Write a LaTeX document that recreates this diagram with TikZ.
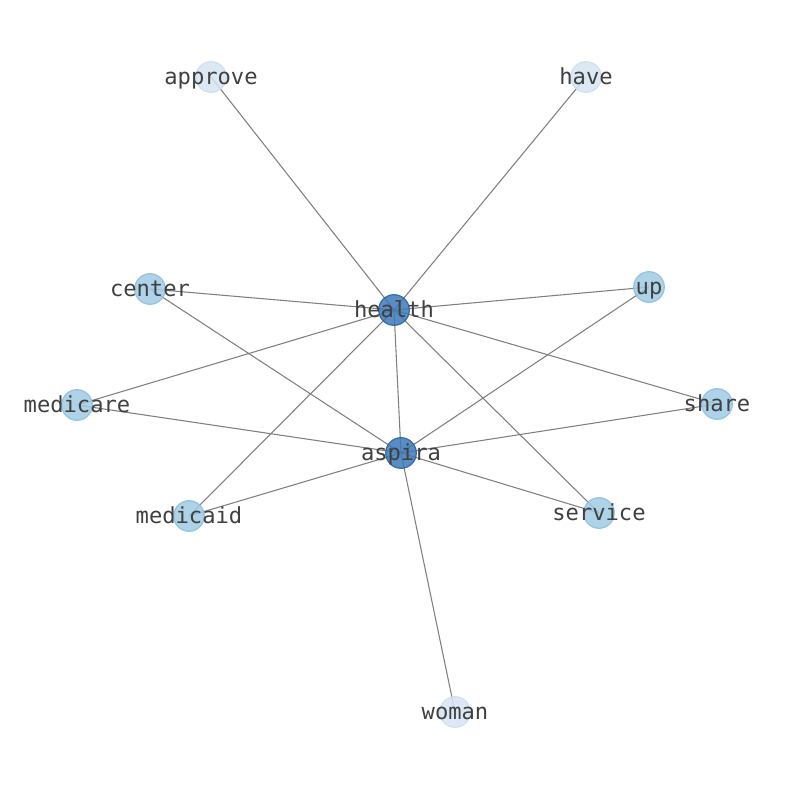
\documentclass[tikz,border=0pt]{standalone}
\usepackage{fontspec}
\setmonofont{DejaVu Sans Mono}
\begin{document}
\begin{tikzpicture}[x=0.75pt,y=-0.75pt,
  nd/.style={circle,minimum size=23pt,inner sep=0pt,line width=0.9pt,fill opacity=0.85,draw opacity=0.85},
  dark/.style={nd,fill={rgb,255:red,60;green,122;blue,185},draw={rgb,255:red,40;green,95;blue,160}},
  mid/.style={nd,fill={rgb,255:red,160;green,204;blue,228},draw={rgb,255:red,140;green,190;blue,222}},
  pale/.style={nd,fill={rgb,255:red,214;green,229;blue,243},draw={rgb,255:red,205;green,222;blue,240}},
  lbl/.style={font=\ttfamily\fontsize{16.6pt}{19pt}\selectfont,text={rgb,255:red,64;green,64;blue,64},inner sep=0pt,text height=0.76em,text depth=0pt,yshift=-1.6pt},
  edge/.style={draw={rgb,255:red,128;green,128;blue,128},line width=0.8pt}]
\useasboundingbox (0,0) rectangle (794,790);
\fill[white] (0,0) rectangle (794,790);
\coordinate (p-approve) at (211,77);
\coordinate (p-have) at (586,77);
\coordinate (p-health) at (394,310);
\coordinate (p-center) at (150,289);
\coordinate (p-up) at (649,287);
\coordinate (p-medicare) at (77,405);
\coordinate (p-share) at (717,404);
\coordinate (p-aspira) at (401,453);
\coordinate (p-medicaid) at (189,516);
\coordinate (p-service) at (599,513);
\coordinate (p-woman) at (455,712);
\foreach \a/\b in {health/approve,health/have,health/center,health/up,health/medicare,health/share,health/medicaid,health/service,health/aspira,aspira/center,aspira/medicare,aspira/medicaid,aspira/up,aspira/share,aspira/service,aspira/woman}
  \draw[edge] (p-\a) -- (p-\b);
\node[pale] (approve) at (p-approve) {};
\node[pale] (have) at (p-have) {};
\node[pale] (woman) at (p-woman) {};
\node[mid] (center) at (p-center) {};
\node[mid] (up) at (p-up) {};
\node[mid] (medicare) at (p-medicare) {};
\node[mid] (share) at (p-share) {};
\node[mid] (medicaid) at (p-medicaid) {};
\node[mid] (service) at (p-service) {};
\node[dark] (health) at (p-health) {};
\node[dark] (aspira) at (p-aspira) {};
\foreach \n in {approve,have,woman,center,up,medicare,share,medicaid,service,health,aspira}
  \node[lbl] (t-\n) at (p-\n) {\n};
\end{tikzpicture}
\end{document}
